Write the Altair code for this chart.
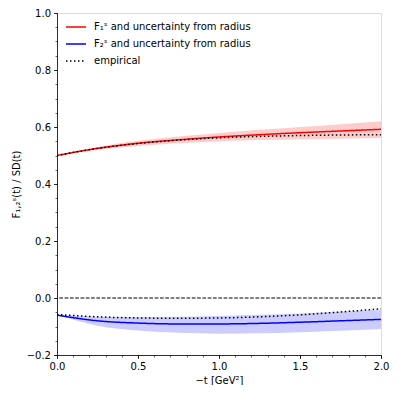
import altair as alt
import pandas as pd

t = [0.0, 0.25, 0.5, 0.75, 1.0, 1.25, 1.5, 1.75, 2.0]

f1 = [0.500, 0.525, 0.543, 0.555, 0.565, 0.573, 0.580, 0.586, 0.592]
f1_hi = [0.500, 0.530, 0.552, 0.567, 0.579, 0.590, 0.600, 0.610, 0.620]
f1_lo = [0.500, 0.520, 0.533, 0.543, 0.550, 0.554, 0.557, 0.559, 0.561]
f1_emp = [0.500, 0.525, 0.542, 0.554, 0.562, 0.567, 0.570, 0.572, 0.573]

f2 = [-0.060, -0.080, -0.088, -0.091, -0.091, -0.089, -0.085, -0.080, -0.075]
f2_hi = [-0.060, -0.066, -0.067, -0.066, -0.063, -0.059, -0.054, -0.048, -0.042]
f2_lo = [-0.060, -0.097, -0.114, -0.122, -0.125, -0.124, -0.120, -0.115, -0.109]
f2_emp = [-0.058, -0.066, -0.070, -0.071, -0.070, -0.066, -0.059, -0.049, -0.038]

labels = ["F₁ˢ and uncertainty from radius", "F₂ˢ and uncertainty from radius", "empirical"]
x_ticks = [0.0, 0.5, 1.0, 1.5, 2.0]
y_ticks = [-0.2, 0.0, 0.2, 0.4, 0.6, 0.8, 1.0]
x_minor = [round(i * 0.1, 2) for i in range(21)]
y_minor = [round(-0.2 + i * 0.05, 3) for i in range(25)]

rows = []
for name, curve, vals in [(labels[0], "a", f1), (labels[1], "b", f2),
                          (labels[2], "c", f1_emp), (labels[2], "d", f2_emp)]:
    for ti, v in zip(t, vals):
        rows.append({"t": ti, "v": v, "series": name, "curve": curve})
lines = pd.DataFrame(rows)

brows = []
for name, lo, hi in [("F1", f1_lo, f1_hi), ("F2", f2_lo, f2_hi)]:
    for ti, l, h in zip(t, lo, hi):
        brows.append({"t": ti, "lo": l, "hi": h, "band": name})
bands = pd.DataFrame(brows)

xs = alt.Scale(domain=[0, 2], nice=False, zero=False)
ys = alt.Scale(domain=[-0.2, 1.0], nice=False, zero=False)

font = "DejaVu Sans"
common_axis = dict(domainColor="black", tickColor="black", tickWidth=0.8, domainWidth=0.8,
                   grid=False, labelFont=font, labelFontSize=10, labelColor="black")

band_layer = alt.Chart(bands).mark_area(opacity=0.2, interpolate="monotone").encode(
    x=alt.X("t:Q", scale=xs, axis=alt.Axis(values=x_minor, labels=False, tickSize=2,
                                           domain=False, grid=False, title=None, orient="bottom",
                                           tickColor="black", tickWidth=0.6)),
    y=alt.Y("lo:Q", scale=ys, axis=alt.Axis(values=y_minor, labels=False, tickSize=2,
                                            domain=False, grid=False, title=None, orient="left",
                                            tickColor="black", tickWidth=0.6)),
    y2="hi:Q",
    fill=alt.Fill("band:N", scale=alt.Scale(domain=["F1", "F2"], range=["#ff0000", "#0000ff"]),
                  legend=None),
    detail="band:N",
)

zero_df = pd.DataFrame({"z": [0.0]})
zero_layer = alt.Chart(zero_df).mark_rule(color="black", strokeWidth=1, strokeDash=[3.7, 1.6]).encode(
    y=alt.Y("z:Q", scale=ys, axis=None)
)

leg = alt.Legend(title=None, orient="none", legendX=8, legendY=3,
                 symbolType="stroke", symbolSize=400, symbolStrokeWidth=1.5,
                 labelFont=font, labelFontSize=10, labelColor="black",
                 labelOffset=7, rowPadding=1, padding=0, labelLimit=300)

line_layer = alt.Chart(lines).mark_line(strokeWidth=1.5, interpolate="monotone").encode(
    x=alt.X("t:Q", scale=xs, axis=alt.Axis(values=x_ticks, format=".1f", tickSize=3.5, labelPadding=3,
                                           title="−t [GeV²]", titleFont=font, titleFontSize=10,
                                           titleFontWeight="normal", titleColor="black", titlePadding=4,
                                           labelFlush=False, orient="bottom", **common_axis)),
    y=alt.Y("v:Q", scale=ys, axis=alt.Axis(values=y_ticks, format=".1f", tickSize=3.5, labelPadding=3,
                                           title="F₁,₂ˢ(t) / SD(t)", titleFont=font, titleFontSize=10,
                                           titleFontWeight="normal", titleColor="black", titlePadding=5,
                                           orient="left", **common_axis)),
    color=alt.Color("series:N", scale=alt.Scale(domain=labels, range=["#ff0000", "#0000ff", "black"]),
                    legend=leg),
    strokeDash=alt.StrokeDash("series:N", scale=alt.Scale(domain=labels, range=[[1, 0], [1, 0], [1.5, 2.5]]),
                              legend=leg),
    detail="curve:N",
    order=alt.Order("curve:N"),
)

chart = alt.layer(band_layer, zero_layer, line_layer).resolve_axis(
    x="independent", y="independent"
).properties(
    width=324, height=342,
    autosize=alt.AutoSizeParams(type="none"),
    padding={"left": 49, "top": 5, "right": 10, "bottom": 30},
).configure_view(stroke="black", strokeWidth=0.8).configure(font=font)

chart.save("out.html", embed_options={"renderer": "svg", "actions": False})
